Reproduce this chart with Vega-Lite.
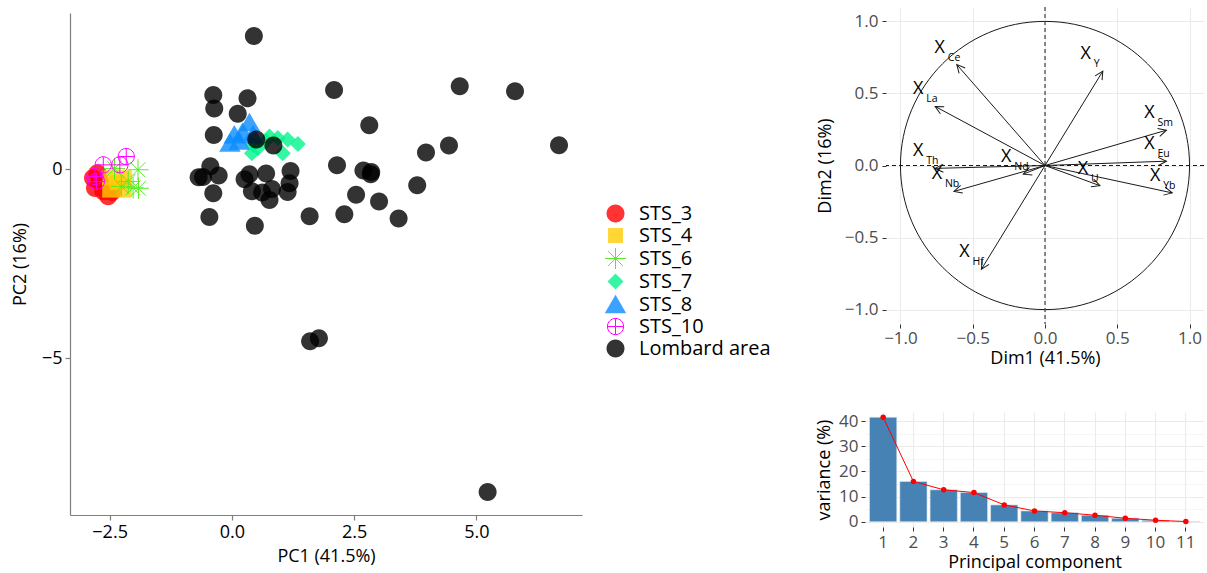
{
  "$schema": "https://vega.github.io/schema/vega-lite/v6.json",
  "background": "white",
  "padding": {"left": 11, "top": 6, "right": 0, "bottom": 0},
  "config": {
    "font": "Open Sans",
    "view": {"stroke": null},
    "axis": {"titleFontWeight": "normal", "titleColor": "black"}
  },
  "datasets": {
    "pts": [
      {"group": "STS_3", "pc1": -2.84, "pc2": -0.23},
      {"group": "STS_3", "pc1": -2.80, "pc2": -0.49},
      {"group": "STS_3", "pc1": -2.53, "pc2": -0.71},
      {"group": "STS_3", "pc1": -2.63, "pc2": -0.58},
      {"group": "STS_3", "pc1": -2.70, "pc2": -0.32},
      {"group": "STS_3", "pc1": -2.45, "pc2": -0.60},
      {"group": "STS_3", "pc1": -2.75, "pc2": -0.10},
      {"group": "STS_4", "pc1": -2.50, "pc2": -0.22},
      {"group": "STS_4", "pc1": -2.20, "pc2": -0.22},
      {"group": "STS_4", "pc1": -2.35, "pc2": -0.35},
      {"group": "STS_4", "pc1": -2.50, "pc2": -0.55},
      {"group": "STS_4", "pc1": -2.20, "pc2": -0.55},
      {"group": "STS_6", "pc1": -1.92, "pc2": -0.01},
      {"group": "STS_6", "pc1": -2.26, "pc2": -0.45},
      {"group": "STS_6", "pc1": -2.02, "pc2": -0.49},
      {"group": "STS_6", "pc1": -2.12, "pc2": -0.32},
      {"group": "STS_6", "pc1": -2.40, "pc2": 0.02},
      {"group": "STS_6", "pc1": -1.91, "pc2": -0.50},
      {"group": "STS_7", "pc1": 0.41, "pc2": 0.43},
      {"group": "STS_7", "pc1": 0.53, "pc2": 0.56},
      {"group": "STS_7", "pc1": 0.77, "pc2": 0.87},
      {"group": "STS_7", "pc1": 0.94, "pc2": 0.83},
      {"group": "STS_7", "pc1": 1.04, "pc2": 0.43},
      {"group": "STS_7", "pc1": 1.14, "pc2": 0.79},
      {"group": "STS_7", "pc1": 1.35, "pc2": 0.67},
      {"group": "STS_7", "pc1": 0.43, "pc2": 0.65},
      {"group": "STS_7", "pc1": 0.70, "pc2": 0.75},
      {"group": "STS_8", "pc1": 0.36, "pc2": 1.24},
      {"group": "STS_8", "pc1": -0.04, "pc2": 0.70},
      {"group": "STS_8", "pc1": 0.05, "pc2": 0.92},
      {"group": "STS_8", "pc1": 0.22, "pc2": 0.99},
      {"group": "STS_8", "pc1": 0.43, "pc2": 0.92},
      {"group": "STS_8", "pc1": 0.15, "pc2": 0.75},
      {"group": "STS_10", "pc1": -2.16, "pc2": 0.34},
      {"group": "STS_10", "pc1": -2.63, "pc2": 0.12},
      {"group": "STS_10", "pc1": -2.29, "pc2": 0.12},
      {"group": "STS_10", "pc1": -2.80, "pc2": -0.19},
      {"group": "STS_10", "pc1": -2.77, "pc2": -0.32},
      {"group": "Lombard area", "pc1": 0.45, "pc2": 3.53},
      {"group": "Lombard area", "pc1": -0.38, "pc2": 1.97},
      {"group": "Lombard area", "pc1": -0.36, "pc2": 1.61},
      {"group": "Lombard area", "pc1": 0.32, "pc2": 1.88},
      {"group": "Lombard area", "pc1": 0.12, "pc2": 1.47},
      {"group": "Lombard area", "pc1": -0.37, "pc2": 0.91},
      {"group": "Lombard area", "pc1": 2.09, "pc2": 2.10},
      {"group": "Lombard area", "pc1": 4.66, "pc2": 2.20},
      {"group": "Lombard area", "pc1": 5.79, "pc2": 2.07},
      {"group": "Lombard area", "pc1": 2.81, "pc2": 1.17},
      {"group": "Lombard area", "pc1": 6.69, "pc2": 0.64},
      {"group": "Lombard area", "pc1": 4.44, "pc2": 0.63},
      {"group": "Lombard area", "pc1": 3.97, "pc2": 0.45},
      {"group": "Lombard area", "pc1": 0.50, "pc2": 0.79},
      {"group": "Lombard area", "pc1": 0.85, "pc2": 0.63},
      {"group": "Lombard area", "pc1": -0.44, "pc2": 0.08},
      {"group": "Lombard area", "pc1": -0.59, "pc2": -0.20},
      {"group": "Lombard area", "pc1": -0.68, "pc2": -0.21},
      {"group": "Lombard area", "pc1": -0.27, "pc2": -0.16},
      {"group": "Lombard area", "pc1": -0.38, "pc2": -0.63},
      {"group": "Lombard area", "pc1": -0.46, "pc2": -1.26},
      {"group": "Lombard area", "pc1": 0.36, "pc2": -0.13},
      {"group": "Lombard area", "pc1": 0.26, "pc2": -0.26},
      {"group": "Lombard area", "pc1": 0.70, "pc2": -0.11},
      {"group": "Lombard area", "pc1": 1.20, "pc2": -0.04},
      {"group": "Lombard area", "pc1": 0.41, "pc2": -0.58},
      {"group": "Lombard area", "pc1": 0.62, "pc2": -0.61},
      {"group": "Lombard area", "pc1": 0.82, "pc2": -0.52},
      {"group": "Lombard area", "pc1": 0.77, "pc2": -0.81},
      {"group": "Lombard area", "pc1": 1.18, "pc2": -0.37},
      {"group": "Lombard area", "pc1": 1.14, "pc2": -0.60},
      {"group": "Lombard area", "pc1": 0.47, "pc2": -1.49},
      {"group": "Lombard area", "pc1": 1.59, "pc2": -1.24},
      {"group": "Lombard area", "pc1": 2.15, "pc2": 0.11},
      {"group": "Lombard area", "pc1": 2.30, "pc2": -1.19},
      {"group": "Lombard area", "pc1": 2.54, "pc2": -0.67},
      {"group": "Lombard area", "pc1": 2.69, "pc2": -0.03},
      {"group": "Lombard area", "pc1": 2.85, "pc2": -0.07},
      {"group": "Lombard area", "pc1": 2.84, "pc2": -0.13},
      {"group": "Lombard area", "pc1": 3.01, "pc2": -0.85},
      {"group": "Lombard area", "pc1": 3.41, "pc2": -1.30},
      {"group": "Lombard area", "pc1": 3.79, "pc2": -0.42},
      {"group": "Lombard area", "pc1": 1.60, "pc2": -4.55},
      {"group": "Lombard area", "pc1": 1.78, "pc2": -4.47},
      {"group": "Lombard area", "pc1": 5.23, "pc2": -8.54}
    ],
    "vars": [
      {"name": "Ce", "d1": -0.61, "d2": 0.70},
      {"name": "La", "d1": -0.76, "d2": 0.41},
      {"name": "Y", "d1": 0.40, "d2": 0.655},
      {"name": "Sm", "d1": 0.84, "d2": 0.245},
      {"name": "Eu", "d1": 0.84, "d2": 0.03},
      {"name": "Yb", "d1": 0.88, "d2": -0.19},
      {"name": "U", "d1": 0.38, "d2": -0.14},
      {"name": "Nd", "d1": -0.15, "d2": -0.06},
      {"name": "Th", "d1": -0.76, "d2": -0.02},
      {"name": "Nb", "d1": -0.63, "d2": -0.18},
      {"name": "Hf", "d1": -0.44, "d2": -0.72}
    ],
    "scree": [
      {"pc": 1, "v": 41.5},
      {"pc": 2, "v": 16.0},
      {"pc": 3, "v": 12.7},
      {"pc": 4, "v": 11.6},
      {"pc": 5, "v": 6.7},
      {"pc": 6, "v": 4.3},
      {"pc": 7, "v": 3.6},
      {"pc": 8, "v": 2.6},
      {"pc": 9, "v": 1.4},
      {"pc": 10, "v": 0.6},
      {"pc": 11, "v": 0.1}
    ]
  },
  "columns": 2,
  "align": "none",
  "spacing": 233,
  "concat": [
    {
      "width": 512,
      "height": 508,
      "data": {"name": "pts"},
      "mark": {"type": "point", "filled": true, "size": 400, "strokeWidth": 1, "opacity": 1},
      "encoding": {
        "x": {
          "field": "pc1", "type": "quantitative",
          "scale": {"domain": [-3.31, 7.16], "nice": false, "zero": false},
          "axis": {
            "values": [-2.5, 0, 2.5, 5], "format": ".1f", "title": "PC1 (41.5%)", "grid": false,
            "domainColor": "#7F7F7F", "domainWidth": 1.2, "tickColor": "#7F7F7F", "tickWidth": 1.2, "tickSize": 5,
            "labelColor": "black", "labelFontSize": 18, "labelPadding": 3,
            "titleFontSize": 18, "titlePadding": 6
          }
        },
        "y": {
          "field": "pc2", "type": "quantitative",
          "scale": {"domain": [-9.15, 4.14], "nice": false, "zero": false, "range": [508, 6]},
          "axis": {
            "values": [-5, 0], "format": "d", "title": "PC2 (16%)", "grid": false,
            "domainColor": "#7F7F7F", "domainWidth": 1.2, "tickColor": "#7F7F7F", "tickWidth": 1.2, "tickSize": 5,
            "labelColor": "black", "labelFontSize": 18, "labelPadding": 3,
            "titleFontSize": 18, "titlePadding": 12
          }
        },
        "fill": {
          "field": "group", "type": "nominal",
          "scale": {"domain": ["STS_3", "STS_4", "STS_6", "STS_7", "STS_8", "STS_10", "Lombard area"],
                    "range": ["rgba(255,0,0,0.8)", "rgba(255,204,0,0.8)", "transparent", "rgba(0,245,140,0.8)", "rgba(10,140,255,0.8)", "transparent", "rgba(0,0,0,0.8)"]},
          "legend": {
            "title": null, "orient": "none", "legendX": 535, "legendY": 196,
            "labelFontSize": 20, "labelColor": "black", "labelOffset": 13, "labelLimit": 300,
            "symbolSize": 400, "rowPadding": 0, "symbolStrokeWidth": 1, "symbolOpacity": 1
          }
        },
        "stroke": {
          "field": "group", "type": "nominal",
          "scale": {"domain": ["STS_3", "STS_4", "STS_6", "STS_7", "STS_8", "STS_10", "Lombard area"],
                    "range": ["transparent", "transparent", "#55EE22", "transparent", "transparent", "#FF00FF", "transparent"]},
          "legend": {"title": null}
        },
        "shape": {
          "field": "group", "type": "nominal",
          "scale": {"domain": ["STS_3", "STS_4", "STS_6", "STS_7", "STS_8", "STS_10", "Lombard area"],
                    "range": [
                      "M-0.9,0A0.9,0.9,0,1,0,0.9,0A0.9,0.9,0,1,0,-0.9,0Z",
                      "M-0.745,-0.745H0.745V0.745H-0.745Z",
                      "M-1.05,0H1.05M0,-1.05V1.05M-0.74,-0.74L0.74,0.74M-0.74,0.74L0.74,-0.74",
                      "M0,-0.8L0.8,0L0,0.8L-0.8,0Z",
                      "M0,-0.97L1.07,0.88L-1.07,0.88Z",
                      "M-0.81,0A0.81,0.81,0,1,0,0.81,0A0.81,0.81,0,1,0,-0.81,0ZM-0.81,0H0.81M0,-0.81V0.81",
                      "M-0.9,0A0.9,0.9,0,1,0,0.9,0A0.9,0.9,0,1,0,-0.9,0Z"
                    ]},
          "legend": {"title": null}
        }
      }
    },
    {
      "columns": 1,
      "align": "none",
      "spacing": 45,
      "concat": [
        {
          "width": 318,
          "height": 317,
          "layer": [
            {
              "data": {"values": [{}]},
              "mark": {"type": "rect", "fill": "transparent", "stroke": "#1A1A1A", "strokeWidth": 1, "cornerRadius": 1000},
              "encoding": {
                "x": {
                  "datum": -1, "type": "quantitative",
                  "scale": {"domain": [-1.1, 1.1], "nice": false, "zero": false},
                  "axis": {
                    "values": [-1, -0.75, -0.5, -0.25, 0, 0.25, 0.5, 0.75, 1], "format": ".1f",
                    "labelExpr": "abs(datum.value * 2 - round(datum.value * 2)) < 0.001 ? datum.label : ''",
                    "grid": true, "gridColor": "#EBEBEB",
                    "gridWidth": {"condition": {"test": "abs(datum.value * 2 - round(datum.value * 2)) < 0.001", "value": 1.1}, "value": 0.5},
                    "tickOpacity": {"condition": {"test": "abs(datum.value * 2 - round(datum.value * 2)) < 0.001", "value": 1}, "value": 0},
                    "domain": false, "tickColor": "#333333", "tickSize": 4,
                    "labelColor": "#4D4D4D", "labelFontSize": 17, "labelPadding": 2,
                    "title": "Dim1 (41.5%)", "titleFontSize": 18, "titlePadding": 3
                  }
                },
                "x2": {"datum": 1},
                "y": {
                  "datum": -1, "type": "quantitative",
                  "scale": {"domain": [-1.1, 1.1], "nice": false, "zero": false},
                  "axis": {
                    "values": [-1, -0.75, -0.5, -0.25, 0, 0.25, 0.5, 0.75, 1], "format": ".1f",
                    "labelExpr": "abs(datum.value * 2 - round(datum.value * 2)) < 0.001 ? datum.label : ''",
                    "grid": true, "gridColor": "#EBEBEB",
                    "gridWidth": {"condition": {"test": "abs(datum.value * 2 - round(datum.value * 2)) < 0.001", "value": 1.1}, "value": 0.5},
                    "tickOpacity": {"condition": {"test": "abs(datum.value * 2 - round(datum.value * 2)) < 0.001", "value": 1}, "value": 0},
                    "domain": false, "tickColor": "#333333", "tickSize": 4,
                    "labelColor": "#4D4D4D", "labelFontSize": 17, "labelPadding": 4,
                    "title": "Dim2 (16%)", "titleFontSize": 18, "titlePadding": 10
                  }
                },
                "y2": {"datum": 1}
              }
            },
            {
              "data": {"values": [{}]},
              "mark": {"type": "rule", "color": "#1A1A1A", "strokeDash": [4, 3], "strokeWidth": 1},
              "encoding": {"x": {"datum": 0, "type": "quantitative"}}
            },
            {
              "data": {"values": [{}]},
              "mark": {"type": "rule", "color": "#1A1A1A", "strokeDash": [4, 3], "strokeWidth": 1},
              "encoding": {"y": {"datum": 0, "type": "quantitative"}}
            },
            {
              "data": {"name": "vars"},
              "mark": {"type": "rule", "color": "#1A1A1A", "strokeWidth": 1},
              "encoding": {
                "x": {"field": "d1", "type": "quantitative"},
                "y": {"field": "d2", "type": "quantitative"},
                "x2": {"datum": 0},
                "y2": {"datum": 0}
              }
            },
            {
              "data": {"name": "vars"},
              "transform": [{"calculate": "atan2(datum.d1, datum.d2) * 180 / PI", "as": "ang"}],
              "mark": {"type": "point", "filled": false, "color": "#1A1A1A", "strokeWidth": 1, "opacity": 1, "size": 324, "shape": "M-0.45,0.9L0,0L0.45,0.9"},
              "encoding": {
                "x": {"field": "d1", "type": "quantitative"},
                "y": {"field": "d2", "type": "quantitative"},
                "angle": {"field": "ang", "type": "quantitative", "scale": null}
              }
            },
            {
              "data": {"name": "vars"},
              "mark": {"type": "text", "fontSize": 18, "dx": -17, "dy": -17, "align": "center", "baseline": "middle", "color": "black"},
              "encoding": {
                "x": {"field": "d1", "type": "quantitative"},
                "y": {"field": "d2", "type": "quantitative"},
                "text": {"value": "X"}
              }
            },
            {
              "data": {"name": "vars"},
              "mark": {"type": "text", "fontSize": 10.5, "dx": -9, "dy": -7, "align": "left", "baseline": "middle", "color": "black"},
              "encoding": {
                "x": {"field": "d1", "type": "quantitative"},
                "y": {"field": "d2", "type": "quantitative"},
                "text": {"field": "name"}
              }
            }
          ]
        },
        {
          "width": 318,
          "height": 115,
          "data": {"name": "scree"},
          "encoding": {
            "x": {
              "field": "pc", "type": "ordinal",
              "scale": {"paddingInner": 0.1, "paddingOuter": 0.15, "range": [-21, 318]},
              "axis": {
                "labelAngle": 0, "grid": true, "gridColor": "#EBEBEB", "gridWidth": 1.1, "bandPosition": 0.5,
                "domain": false, "tickColor": "#333333", "tickSize": 4,
                "labelColor": "#4D4D4D", "labelFontSize": 17, "labelPadding": 3,
                "title": "Principal component", "titleFontSize": 18, "titlePadding": 3
              }
            },
            "y": {
              "field": "v", "type": "quantitative",
              "scale": {"domain": [-2.075, 43.575], "nice": false, "zero": false},
              "axis": {
                "offset": 21,
                "values": [0, 5, 10, 15, 20, 25, 30, 35, 40],
                "labelExpr": "datum.value % 10 == 0 ? datum.label : ''",
                "grid": true, "gridColor": "#EBEBEB",
                "gridWidth": {"condition": {"test": "datum.value % 10 == 0", "value": 1.1}, "value": 0.5},
                "tickOpacity": {"condition": {"test": "datum.value % 10 == 0", "value": 1}, "value": 0},
                "domain": false, "tickColor": "#333333", "tickSize": 4,
                "labelColor": "#4D4D4D", "labelFontSize": 17, "labelPadding": 3,
                "title": "variance (%)", "titleFontSize": 18, "titlePadding": 5
              }
            }
          },
          "layer": [
            {
              "mark": {"type": "bar", "fill": "#4682B4", "stroke": "#DDE8F2", "strokeWidth": 0.6},
              "encoding": {"y2": {"datum": 0}}
            },
            {
              "mark": {"type": "line", "color": "#FF0000", "strokeWidth": 1}
            },
            {
              "mark": {"type": "point", "filled": true, "color": "#FF0000", "size": 30, "opacity": 1}
            }
          ]
        }
      ]
    }
  ]
}
